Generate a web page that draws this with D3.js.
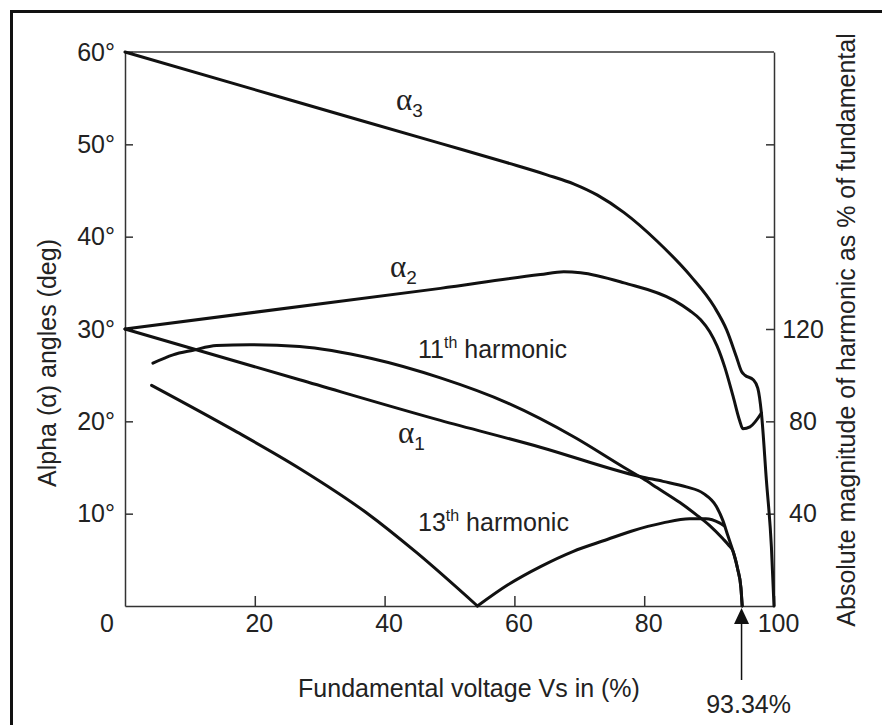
<!DOCTYPE html>
<html>
<head>
<meta charset="utf-8">
<script src="https://cdn.jsdelivr.net/npm/d3@7"></script>
<style>
  body { margin: 0; background: #fff; }
  svg { display: block; }
  text { font-family: "Liberation Sans", Arial, sans-serif; fill: #222; }
  .curve { fill: none; stroke: #111; stroke-width: 3; stroke-linecap: round; stroke-linejoin: round; }
  .axis path, .axis line { stroke: #333; stroke-width: 1.5; }
  .axis text { font-size: 25px; fill: #222; }
</style>
</head>
<body>
<script>
// values: [fundamental voltage %, angle in deg]
const alpha1 = [[0,30],[26.9,24.5],[48.6,20.1],[64,17.2],[79.5,14.0],[82.9,13.5],[86.5,12.9],
  [89.1,12.2],[91.1,10.8],[92.1,9.3],[92.9,7.6],[93.7,5.9],[94.4,4.0],[94.9,2.0],[95.1,0]];
const alpha2 = [[0,30],[48.6,34.4],[64,35.9],[67.6,36.2],[70.2,36.1],[76.9,35.0],[84.6,33.1],[87,32.0],
  [88.7,31.0],[90.1,29.7],[91.2,28.2],[92.4,25.9],[93.7,22.7],[94.7,20.1],[95.2,19.2],[96.3,19.4],[98.06,20.9]];
const alpha3 = [[0,60],[24,55.1],[48.6,50.1],[58.9,48.0],[65,46.7],[69.2,45.7],[72.8,44.5],[76.9,42.6],
  [82.0,39.5],[87.2,35.7],[90.8,32.4],[92.7,29.9],[94.2,27.0],[95.0,25.4],[95.5,25.0],[96.8,24.5],
  [97.5,23.6],[98.06,20.9],[98.83,13.6],[99.6,6.4],[100,0]];
const harmonic11 = [[4.3,26.3],[7.4,27.2],[10.5,27.7],[14.1,28.2],[19.2,28.3],[26.9,28.1],[38,26.8],
  [48.6,24.7],[58.9,22.0],[69.2,18.3],[76.9,15.0],[79.8,13.8],[82,12.8],[85.5,11.2],[88.0,9.9],
  [90.1,8.7],[92.1,7.3],[93.0,6.6],[93.7,5.9],[94.4,4.0],[94.9,2.0],[95.1,0]];
const harmonic13 = [[4.1,23.9],[16.6,19.1],[26.9,14.9],[37.2,10.1],[44.9,5.8],[54.3,0],[59,2.3],
  [64.1,4.3],[69,5.9],[74.3,7.2],[78,8.1],[82.9,9.0],[87.0,9.45],[89.5,9.45],[91.6,9.0],[92.3,8.7]];

const xTicks = [20, 40, 60, 80, 100];
const leftTicks = [10, 20, 30, 40, 50, 60];
const rightTicks = [40, 80, 120, 160, 200];
const rightLabelled = [40, 80, 120];
const arrowAt = 95.0;          // where the arrow sits on the drawn scale
const arrowLabel = '93.34%';

const width = 882, height = 725;

const x = d3.scaleLinear().domain([0, 100]).range([125, 774]);
const y = d3.scaleLinear().domain([0, 60]).range([606, 52]);
const yRight = d3.scaleLinear().domain([0, 240]).range([606, 52]);

const svg = d3.select('body').append('svg')
  .attr('width', width)
  .attr('height', height);

// outer frame (only left and top edges fall inside the picture)
svg.append('rect')
  .attr('x', 11.5).attr('y', 11.5)
  .attr('width', 900).attr('height', 800)
  .attr('fill', 'none').attr('stroke', '#111').attr('stroke-width', 3);

// plot box top edge
svg.append('line')
  .attr('x1', x(0)).attr('x2', x(100))
  .attr('y1', y(60)).attr('y2', y(60))
  .attr('stroke', '#333').attr('stroke-width', 1.5);

svg.append('g')
  .attr('class', 'axis')
  .attr('transform', `translate(${x(0)},0)`)
  .call(d3.axisLeft(y).tickValues(leftTicks).tickSize(-8).tickSizeOuter(0).tickPadding(10)
    .tickFormat(d => d + '°'));

svg.append('g')
  .attr('class', 'axis')
  .attr('transform', `translate(0,${y(0)})`)
  .call(d3.axisBottom(x).tickValues(xTicks).tickSize(-10).tickSizeOuter(0).tickPadding(8))
  .selectAll('text').attr('dx', 4);

const rAxis = svg.append('g')
  .attr('class', 'axis')
  .attr('transform', `translate(${x(100)},0)`)
  .call(d3.axisRight(yRight).tickValues(rightTicks).tickSize(-8).tickSizeOuter(0)
    .tickFormat(d => rightLabelled.includes(d) ? d : ''));
rAxis.selectAll('text').attr('x', 29).attr('text-anchor', 'middle');

// origin label
svg.append('text')
  .attr('x', x(0) - 18).attr('y', 632)
  .attr('text-anchor', 'middle').attr('font-size', 25)
  .text('0');

// curves
const line = d3.line()
  .x(d => x(d[0]))
  .y(d => y(d[1]))
  .curve(d3.curveMonotoneX);

// the 13th harmonic has a sharp corner at its zero, draw both sides separately
const minIdx = d3.minIndex(harmonic13, d => d[1]);
const series = [alpha1, alpha2, alpha3, harmonic11,
  harmonic13.slice(0, minIdx + 1), harmonic13.slice(minIdx)];

svg.selectAll('path.curve')
  .data(series)
  .join('path')
  .attr('class', 'curve')
  .attr('d', line);

// curve labels
function alphaLabel(px, py, sub) {
  const t = svg.append('text').attr('x', px).attr('y', py);
  t.append('tspan')
    .attr('font-family', '"Liberation Serif", "Times New Roman", serif')
    .attr('font-size', 31)
    .text('α');
  t.append('tspan')
    .attr('font-size', 19).attr('dx', 0).attr('dy', 7)
    .text(sub);
}
alphaLabel(396, 110, '3');
alphaLabel(390, 277, '2');
alphaLabel(398, 443, '1');

function harmonicLabel(px, py, n) {
  const t = svg.append('text').attr('x', px).attr('y', py).attr('font-size', 25);
  t.append('tspan').text(n);
  t.append('tspan').attr('font-size', 16).attr('dy', -10).text('th');
  t.append('tspan').attr('dy', 10).text(' harmonic');
}
harmonicLabel(418, 358, '11');
harmonicLabel(418, 531, '13');

// axis titles
svg.append('text')
  .attr('transform', `translate(56,${(y(0) + y(60)) / 2 + 34}) rotate(-90)`)
  .attr('text-anchor', 'middle').attr('font-size', 25)
  .text('Alpha (α) angles (deg)');

svg.append('text')
  .attr('transform', `translate(855,${330}) rotate(-90)`)
  .attr('text-anchor', 'middle').attr('font-size', 25)
  .text('Absolute magnitude of harmonic as % of fundamental');

svg.append('text')
  .attr('x', 469).attr('y', 697)
  .attr('text-anchor', 'middle').attr('font-size', 25)
  .text('Fundamental voltage Vs in (%)');

// arrow marking the 93.34% point
const ax = x(arrowAt);
svg.append('line')
  .attr('x1', ax).attr('x2', ax)
  .attr('y1', 620).attr('y2', 680)
  .attr('stroke', '#111').attr('stroke-width', 1.5);
svg.append('path')
  .attr('d', `M${ax},608 L${ax - 7.5},624 L${ax + 7.5},624 Z`)
  .attr('fill', '#111');
svg.append('text')
  .attr('x', ax + 7).attr('y', 713)
  .attr('text-anchor', 'middle').attr('font-size', 25)
  .text(arrowLabel);
</script>
</body>
</html>
